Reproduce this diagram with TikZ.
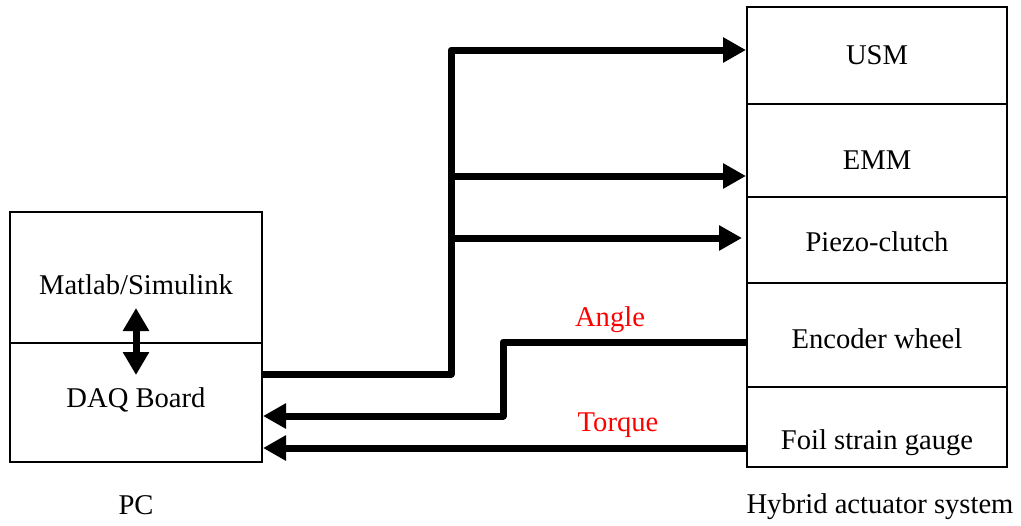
\documentclass[tikz,border=0pt]{standalone}
\usepackage{fontspec}
\setmainfont{Liberation Serif}
\usetikzlibrary{arrows.meta}

\tikzset{
  blk/.style={draw, line width=1pt, inner sep=0pt, minimum width=126pt},
  txt/.style={font=\fontsize{14.3}{17}\selectfont},
  wire/.style={line width=3.5pt, line join=round},
  sig/.style={wire, -{Triangle[length=11.5pt,width=12pt]}},
  sigtxt/.style={txt, text=red}
}

\begin{document}
\begin{tikzpicture}[x=0.5pt, y=-0.5pt]
        \useasboundingbox (0,0) rectangle (1021,525);

        % PC
        \node[blk, minimum height=65.5pt] (matlab) at (136,277.5) {};
        \node[blk, minimum height=59.5pt] (daq) at (136,402.5) {};
        \node[txt] (matlabt) at (136,285) {Matlab/Simulink};
        \node[txt] (daqt) at (136,400) {DAQ Board};
        \node[txt] (pc) at (136,505) {PC};
        \coordinate (up) at (136,308);
        \coordinate (down) at (136,375);
        \draw[wire, {Triangle[length=11.5pt,width=12.5pt]}-{Triangle[length=11.5pt,width=12.5pt]}] (up) -- (down);

        % Hybrid actuator system
        \node[blk, minimum width=130pt, minimum height=48.5pt] (usm) at (877,55.5) {};
        \node[blk, minimum width=130pt, minimum height=46.5pt] (emm) at (877,150.5) {};
        \node[blk, minimum width=130pt, minimum height=43pt] (piezo) at (877,240) {};
        \node[blk, minimum width=130pt, minimum height=52pt] (enc) at (877,335) {};
        \node[blk, minimum width=130pt, minimum height=40pt] (foil) at (877,427) {};
        \node[txt] (usmt) at (877,55) {USM};
        \node[txt] (emmt) at (877,160) {EMM};
        \node[txt] (piezot) at (877,242) {Piezo-clutch};
        \node[txt] (enct) at (877,339) {Encoder wheel};
        \node[txt] (foilt) at (877,443) {Foil strain gauge};
        \node[txt] (hybrid) at (880,507) {Hybrid actuator system};

        % Commands
        \coordinate (bus) at (451,374);
        \draw[sig] (daq.east |- bus) -| (451,50) -- (usm.west |- 0,50);
        \draw[sig] (451,176) -- (emm.west |- 0,176);
        \draw[sig] (451,238) -- ([xshift=-2pt]piezo.west |- 0,238);

        % Measures
        \draw[sig] (enc.west |- 0,342) -| (503,416) -- (daq.east |- 0,416);
        \draw[sig] (foil.west |- 0,448) -- (daq.east |- 0,448);
        \node[sigtxt] (angle) at (610,320) {Angle};
        \node[sigtxt] (torque) at (618,425) {Torque};
    \end{tikzpicture}
\end{document}
